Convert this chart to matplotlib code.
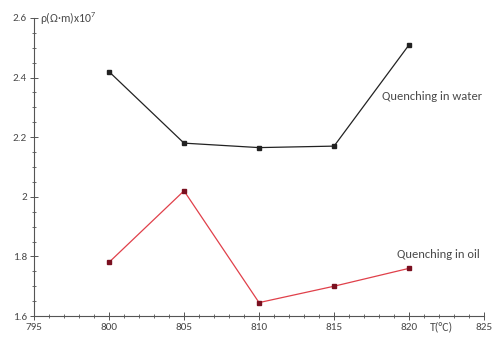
import matplotlib

matplotlib.use("Agg")
import matplotlib.pyplot as plt
from matplotlib.ticker import MultipleLocator, FuncFormatter

temps = [800, 805, 810, 815, 820]
rho_water = [2.42, 2.18, 2.165, 2.17, 2.51]
rho_oil = [1.78, 2.02, 1.645, 1.70, 1.76]

plt.rcParams["font.family"] = ["Carlito", "DejaVu Sans"]
plt.rcParams["mathtext.fontset"] = "custom"
plt.rcParams["mathtext.rm"] = "Carlito"
plt.rcParams["mathtext.it"] = "Carlito:italic"
TXT = "#4a4a4a"

fig = plt.figure(figsize=(4.92, 3.45), dpi=100)
ax = fig.add_axes([0.069, 0.084, 0.915, 0.864])

ax.plot(temps, rho_water, color="#222222", lw=0.9, marker="s", ms=2.5)
ax.plot(temps, rho_oil, color="#e0404a", lw=0.9, marker="s", ms=2.8,
        mfc="#7a1020", mec="#7a1020")

ax.set_xlim(795, 825)
ax.set_ylim(1.6, 2.6)
ax.xaxis.set_major_locator(MultipleLocator(5))
ax.xaxis.set_minor_locator(MultipleLocator(1))
ax.yaxis.set_major_locator(MultipleLocator(0.2))
ax.yaxis.set_minor_locator(MultipleLocator(0.05))
ax.yaxis.set_major_formatter(FuncFormatter(lambda v, _: f"{v:g}"))

for side in ("top", "right"):
    ax.spines[side].set_visible(False)
for side in ("left", "bottom"):
    ax.spines[side].set_color("#555555")
    ax.spines[side].set_linewidth(0.8)

ax.tick_params(which="major", direction="inout", length=6, width=0.7,
               colors="#555555", labelcolor=TXT, labelsize=8, pad=2)
ax.tick_params(which="minor", direction="inout", length=3, width=0.6,
               colors="#555555")

ax.text(795.4, 2.6, "ρ(Ω·m)x10$^7$", color=TXT, fontsize=8.5,
        va="center", ha="left")
ax.text(821.4, 1.565, "T(°C)", color=TXT, fontsize=8.5, va="center", ha="left")
ax.text(818.2, 2.335, "Quenching in water", color=TXT, fontsize=9, va="center")
ax.text(819.2, 1.805, "Quenching in oil", color=TXT, fontsize=9, va="center")

fig.savefig("out.png", dpi=100)
